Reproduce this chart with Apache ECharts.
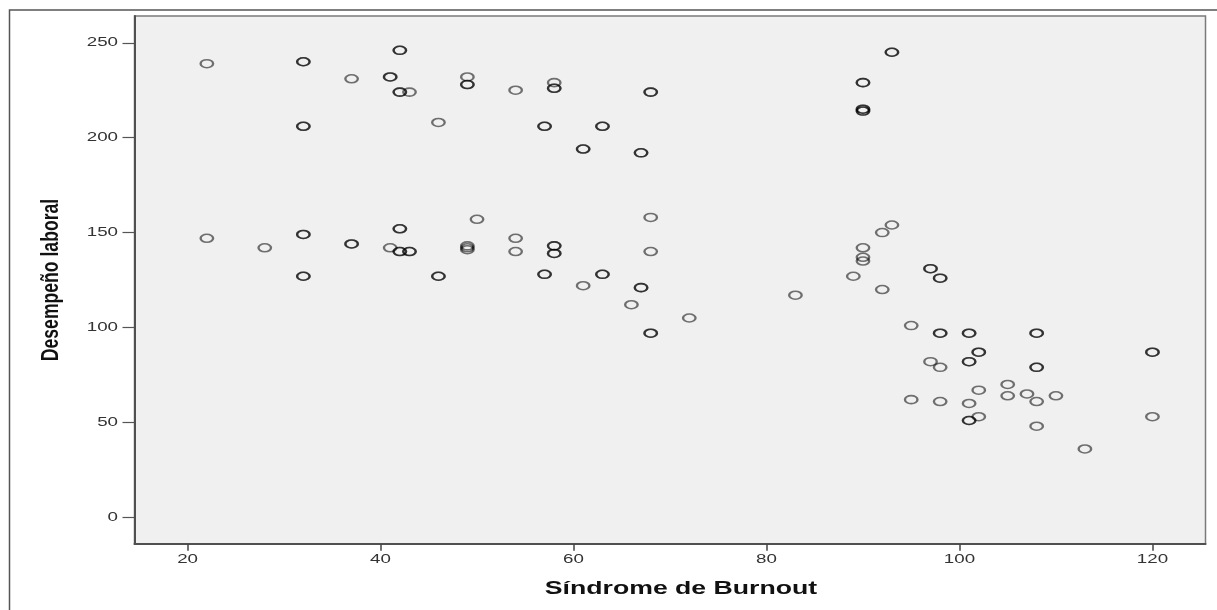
<!DOCTYPE html>
<html>
<head>
<meta charset="utf-8">
<script src="https://cdn.jsdelivr.net/npm/echarts@6/dist/echarts.min.js"></script>
<style>
html,body{margin:0;padding:0;background:#fff;}
#chart{width:1217px;height:610px;}
</style>
</head>
<body>
<div id="chart"></div>
<script>
// Síndrome de Burnout (x) and Desempeño laboral (y); repeated pairs are overlapping cases
const burnout = [
  22, 32, 32, 32, 32, 42, 42, 37, 41, 41, 42, 42, 43, 49, 49, 49, 54, 58, 58, 58, 68, 68,
  46, 57, 57, 63, 63, 61, 61, 67, 67, 93, 93, 90, 90, 90, 90, 90, 90,
  22, 28, 32, 32, 32, 32, 37, 37, 41, 42, 42, 42, 42, 43, 43, 46, 46, 50, 49, 49, 49,
  54, 54, 58, 58, 58, 58, 57, 57, 61, 63, 63, 67, 67, 68, 68, 66, 72, 68, 68,
  83, 89, 92, 93, 90, 90, 90, 92, 97, 97, 98, 98, 95, 98, 98, 101, 101, 108, 108,
  102, 102, 120, 120, 97, 98, 101, 101, 108, 108, 105, 102, 105, 107, 110, 108,
  95, 98, 101, 102, 101, 101, 120, 108, 113
];
const desempeno = [
  239, 240, 240, 206, 206, 246, 246, 231, 232, 232, 224, 224, 224, 232, 228, 228, 225, 229, 226, 226, 224, 224,
  208, 206, 206, 206, 206, 194, 194, 192, 192, 245, 245, 229, 229, 215, 215, 214, 214,
  147, 142, 149, 149, 127, 127, 144, 144, 142, 152, 152, 140, 140, 140, 140, 127, 127, 157, 143, 142, 141,
  147, 140, 143, 143, 139, 139, 128, 128, 122, 128, 128, 121, 121, 158, 140, 112, 105, 97, 97,
  117, 127, 150, 154, 142, 137, 135, 120, 131, 131, 126, 126, 101, 97, 97, 97, 97, 97, 97,
  87, 87, 87, 87, 82, 79, 82, 82, 79, 79, 70, 67, 64, 65, 64, 61,
  62, 61, 60, 53, 51, 51, 53, 48, 36
];
const xTicks = [20, 40, 60, 80, 100, 120];
const yTicks = [0, 50, 100, 150, 200, 250];
const xTitle = 'Síndrome de Burnout';
const yTitle = 'Desempeño laboral';

const points = burnout.map((v, i) => [v, desempeno[i]]);
const X_MIN = 14.5, X_MAX = 125.5, Y_MIN = -13.9, Y_MAX = 264.1;

const chart = echarts.init(document.getElementById('chart'), null, {renderer: 'canvas'});
const tickFont = {fontFamily: 'Liberation Sans, Arial, sans-serif', fontSize: 12.5, fill: '#333'};

const baseGraphics = [
  {
    type: 'rect', z: -10, silent: true,
    shape: {x: 9.5, y: 10, width: 1400, height: 800},
    style: {fill: 'none', stroke: '#555', lineWidth: 1.5}
  },
  {
    type: 'text', silent: true, x: 681, y: 589, scaleX: 1.44,
    style: {text: xTitle, x: 0, y: 0, align: 'center', verticalAlign: 'middle',
      fontFamily: 'Liberation Sans, Arial, sans-serif', fontWeight: 'bold', fontSize: 18.5, fill: '#111'}
  },
  {
    type: 'text', silent: true, x: 51, y: 280, rotation: Math.PI / 2, scaleX: 1.1, scaleY: 1.5,
    style: {text: yTitle, x: 0, y: 0, align: 'center', verticalAlign: 'middle',
      fontFamily: 'Liberation Sans, Arial, sans-serif', fontWeight: 'bold', fontSize: 16, fill: '#111'}
  }
];

chart.setOption({
  animation: false,
  backgroundColor: '#ffffff',
  grid: {
    left: 134.5, right: 11.5, top: 16, bottom: 66.3,
    show: true, backgroundColor: '#f0f0f0', borderColor: '#7a7a7a', borderWidth: 1.5
  },
  xAxis: {
    type: 'value', min: X_MIN, max: X_MAX,
    axisLine: {show: true, onZero: false, lineStyle: {color: '#505050', width: 2}},
    axisTick: {show: true, length: 7, customValues: xTicks, lineStyle: {color: '#444', width: 1.5}},
    axisLabel: {show: false},
    splitLine: {show: false}
  },
  yAxis: {
    type: 'value', min: Y_MIN, max: Y_MAX,
    axisLine: {show: true, onZero: false, lineStyle: {color: '#505050', width: 2}},
    axisTick: {show: true, length: 12, customValues: yTicks, lineStyle: {color: '#555', width: 1.2}},
    axisLabel: {show: false},
    splitLine: {show: false}
  },
  graphic: baseGraphics,
  series: [{
    type: 'scatter',
    data: points,
    symbol: 'path://M0 5A7 5 0 1 1 14 5A7 5 0 1 1 0 5Z',
    symbolSize: [12.5, 8],
    silent: true,
    itemStyle: {color: 'rgba(0,0,0,0)', borderColor: 'rgba(0,0,0,0.68)', borderWidth: 1.9},
    emphasis: {disabled: true}
  }]
});

// Tick labels placed through the axes' own scales (stretched like the original)
const tickLabels = [];
xTicks.forEach(v => {
  const p = chart.convertToPixel({gridIndex: 0}, [v, Y_MIN]);
  tickLabels.push({
    type: 'text', silent: true, x: p[0], y: p[1] + 16, scaleX: 1.5,
    style: Object.assign({text: String(v), x: 0, y: 0, align: 'center', verticalAlign: 'middle'}, tickFont)
  });
});
yTicks.forEach(v => {
  const p = chart.convertToPixel({gridIndex: 0}, [X_MIN, v]);
  tickLabels.push({
    type: 'text', silent: true, x: p[0] - 16.5, y: p[1], scaleX: 1.5,
    style: Object.assign({text: String(v), x: 0, y: 0, align: 'right', verticalAlign: 'middle'}, tickFont)
  });
});
chart.setOption({graphic: baseGraphics.concat(tickLabels)});
</script>
</body>
</html>
